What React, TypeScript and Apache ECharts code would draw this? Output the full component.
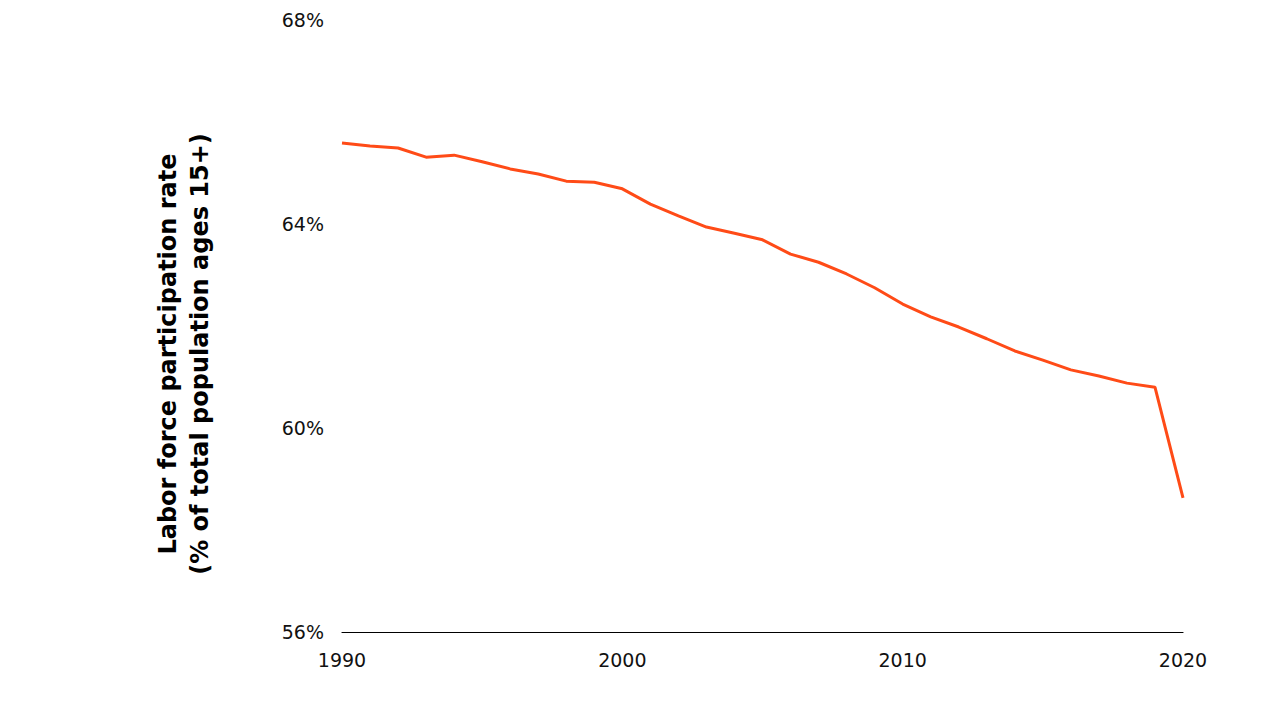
import React, { useEffect, useRef } from "react";
import * as echarts from "echarts";

const years: number[] = [
  1990, 1991, 1992, 1993, 1994, 1995, 1996, 1997, 1998, 1999, 2000, 2001, 2002, 2003, 2004, 2005,
  2006, 2007, 2008, 2009, 2010, 2011, 2012, 2013, 2014, 2015, 2016, 2017, 2018, 2019, 2020,
];
const participationRate: number[] = [
  65.59, 65.53, 65.49, 65.31, 65.35, 65.22, 65.08, 64.98, 64.84, 64.82, 64.69, 64.39, 64.16, 63.94,
  63.82, 63.69, 63.41, 63.25, 63.02, 62.75, 62.43, 62.18, 61.98, 61.75, 61.51, 61.33, 61.14, 61.02,
  60.88, 60.8, 58.63,
];
const yTicks = { min: 56, max: 68, interval: 4 };
const xTicks = { min: 1990, max: 2020, interval: 10 };
const axisTitle = ["Labor force participation rate", "(% of total population ages 15+)"];

export default function App() {
  const ref = useRef<HTMLDivElement>(null);
  useEffect(() => {
    if (!ref.current) return;
    const chart = echarts.init(ref.current, undefined, { renderer: "svg" });
    const font = "'DejaVu Sans', sans-serif";
    chart.setOption({
      animation: false,
      backgroundColor: "#ffffff",
      grid: { left: 342, right: 97, top: 20, bottom: 77, containLabel: false },
      xAxis: {
        type: "value",
        min: xTicks.min,
        max: xTicks.max,
        interval: xTicks.interval,
        axisLine: { show: true, lineStyle: { color: "#000000", width: 1.2 } },
        axisTick: { show: false },
        splitLine: { show: false },
        axisLabel: {
          color: "#111111",
          fontSize: 19,
          fontFamily: font,
          margin: 18,
          formatter: (v: number) => String(v),
        },
      },
      yAxis: {
        type: "value",
        min: yTicks.min,
        max: yTicks.max,
        interval: yTicks.interval,
        axisLine: { show: false },
        axisTick: { show: false },
        splitLine: { show: false },
        axisLabel: {
          color: "#111111",
          fontSize: 19,
          fontFamily: font,
          margin: 18,
          formatter: "{value}%",
        },
      },
      graphic: [
        {
          type: "text",
          x: 184,
          y: 354,
          rotation: Math.PI / 2,
          style: {
            text: axisTitle.join("\n"),
            fontSize: 24,
            fontWeight: "bold",
            fontFamily: "'DejaVu Sans', sans-serif",
            fill: "#000000",
            align: "center",
            verticalAlign: "middle",
            lineHeight: 32,
          },
        },
      ],
      series: [
        {
          type: "line",
          data: years.map((y, i) => [y, participationRate[i]]),
          showSymbol: false,
          symbol: "none",
          lineStyle: { color: "#FF4B17", width: 3 },
        },
      ],
    });
    return () => chart.dispose();
  }, []);
  return <div ref={ref} style={{ position: "absolute", left: 0, top: 0, width: 1280, height: 709 }} />;
}
